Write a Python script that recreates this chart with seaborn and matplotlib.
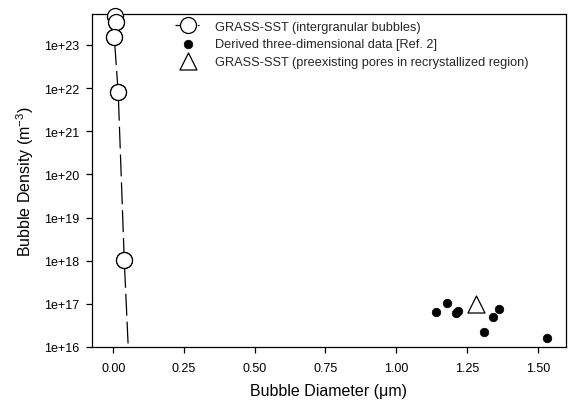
import math
import matplotlib
matplotlib.use("Agg")
import matplotlib.pyplot as plt
import matplotlib.ticker as mticker
import seaborn as sns
import pandas as pd

# ---- data ----
inter_diam = [0.006, 0.0095, 0.0035, 0.0176, 0.039, 0.060]
inter_dens = [4.8e23, 3.4e23, 1.56e23, 7.9e21, 1.03e18, 1.0e15]

derived_diam = [1.141, 1.180, 1.211, 1.220, 1.311, 1.342, 1.362, 1.533]
derived_dens = [6.6e16, 1.03e17, 6.0e16, 6.9e16, 2.26e16, 5.0e16, 7.5e16, 1.6e16]

pore_diam = [1.282]
pore_dens = [1.0e17]

x_ticks = [0.00, 0.25, 0.50, 0.75, 1.00, 1.25, 1.50]
y_ticks = [1e16, 1e17, 1e18, 1e19, 1e20, 1e21, 1e22, 1e23]

labels = ["GRASS-SST (intergranular bubbles)",
          "Derived three-dimensional data [Ref. 2]",
          "GRASS-SST (preexisting pores in recrystallized region)"]

sns.set_theme(style="ticks")
plt.rcParams['font.family'] = ['Liberation Sans', 'DejaVu Sans']
plt.rcParams['mathtext.default'] = 'regular'

Y_MIN, Y_MAX = 1e16, 5.2e23

df_inter = pd.DataFrame({"d": inter_diam, "n": inter_dens})
df_inter_vis = df_inter[(df_inter["n"] >= Y_MIN) & (df_inter["n"] <= Y_MAX)]
df_der = pd.DataFrame({"d": derived_diam, "n": derived_dens})
df_pore = pd.DataFrame({"d": pore_diam, "n": pore_dens})

fig = plt.figure(figsize=(5.69, 4.06), dpi=100)
ax = fig.add_axes([92/569, 1-348/406, (566-92)/569, (348-15)/406])

circ_kw = dict(markersize=11.5, markerfacecolor="white",
               markeredgecolor="black", markeredgewidth=0.9)
sns.lineplot(data=df_inter, x="d", y="n", sort=False, ax=ax, color="black",
             linewidth=0.9, marker="o", label=labels[0], dashes=False, **circ_kw)
ax.lines[-1].set_dashes((17.5, 4.8))
# markers drawn unclipped on top (they overhang the top frame in the reference)
sns.scatterplot(data=df_inter_vis, x="d", y="n", ax=ax, marker="o", s=11.5**2,
                facecolor="white", edgecolor="black", linewidth=0.9,
                clip_on=False, zorder=5, legend=False)
sns.scatterplot(data=df_der, x="d", y="n", ax=ax, color="black", s=38,
                marker="o", edgecolor="black", linewidth=0.5, label=labels[1])
sns.scatterplot(data=df_pore, x="d", y="n", ax=ax, marker="^", s=150,
                facecolor="white", edgecolor="black", linewidth=0.9,
                label=labels[2])

ax.set_yscale("log")
ax.set_xlim(-0.075, 1.60)
ax.set_ylim(Y_MIN, Y_MAX)
ax.set_xticks(x_ticks)
ax.xaxis.set_major_formatter(mticker.FormatStrFormatter("%.2f"))
ax.set_yticks(y_ticks)
ax.yaxis.set_minor_locator(mticker.NullLocator())
ax.yaxis.set_major_formatter(mticker.FuncFormatter(
    lambda v, p: "1e+%d" % round(math.log10(v))))

for s in ax.spines.values():
    s.set_visible(True)
    s.set_color("black")
    s.set_linewidth(0.9)

ax.tick_params(axis="both", direction="out", length=4, width=0.9,
               labelsize=9, colors="black")
ax.tick_params(axis="x", pad=7)
ax.tick_params(axis="y", pad=5)

ax.set_xlabel("Bubble Diameter (μm)", fontsize=11.5, labelpad=6, color="black")
ax.set_ylabel("Bubble Density (m$^{-3}$)", fontsize=11.5, labelpad=6, color="black")

leg = ax.legend(loc="upper left", bbox_to_anchor=(0.165, 0.995), frameon=False,
                fontsize=9.2, handlelength=2.0, handletextpad=1.1,
                labelspacing=0.42, borderaxespad=0)
leg.get_lines()[0].set_dashes((5.5, 12.4, 1.3, 10))

fig.savefig("out.png", dpi=100)
